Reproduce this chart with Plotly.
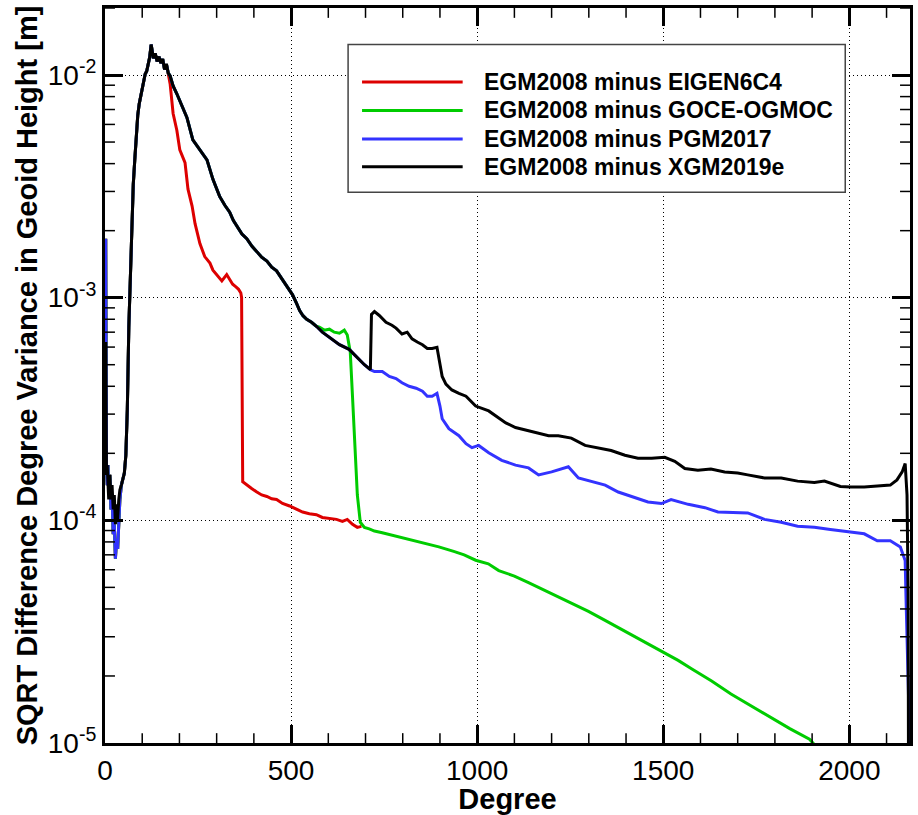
import math
import plotly.graph_objects as go

# ---------------- data ----------------
# shared low-degree part (degrees 2..170) for EIGEN6C4 / GOCE-OGMOC / PGM2017
low_deg = [2, 3, 4, 6, 8, 10, 13, 16, 19, 22, 25, 28, 31, 34, 37, 40, 44, 48, 52, 56,
           60, 64, 68, 72, 76, 80, 84, 88, 92, 96, 100, 104, 108, 112, 116, 120, 124, 127, 130, 135,
           140, 145, 150, 155, 160, 165, 170]
low_val = [1.84e-3, 2.94e-4, 1.77e-4, 1.44e-4, 1.77e-4, 1.30e-4, 1.60e-4, 1.12e-4, 1.30e-4, 8.67e-5,
           9.60e-5, 6.72e-5, 8.24e-5, 7.44e-5, 1.06e-4, 1.24e-4, 1.44e-4, 1.52e-4, 1.63e-4, 1.96e-4,
           3.16e-4, 7.37e-4, 1.23e-3, 1.94e-3, 3.23e-3, 4.16e-3, 5.37e-3, 6.59e-3, 7.44e-3, 8.07e-3,
           8.50e-3, 9.22e-3, 1.01e-2, 1.04e-2, 1.12e-2, 1.20e-2, 1.37e-2, 1.28e-2, 1.19e-2, 1.25e-2,
           1.15e-2, 1.21e-2, 1.13e-2, 1.18e-2, 1.06e-2, 1.12e-2, 1.02e-2]
# XGM2019e differs in the lowest degrees (2..40)
black_low_head = [6.32e-4, 2.40e-4, 1.60e-4, 1.77e-4, 1.37e-4, 1.24e-4, 1.60e-4, 1.24e-4, 1.44e-4, 1.12e-4,
                  1.30e-4, 9.60e-5, 1.18e-4, 1.01e-4, 1.24e-4, 1.37e-4]

# shared part of GOCE-OGMOC / PGM2017 / XGM2019e (degrees 175..568)
mid_deg = [175, 183, 193, 207, 220, 236, 255, 274, 290, 308, 322, 335, 345, 354, 368, 381, 395, 408,
           421, 435, 448, 461, 475, 488, 504, 515, 523, 532, 542, 555, 568]
mid_val = [9.90e-3, 8.94e-3, 8.24e-3, 7.29e-3, 6.45e-3, 5.11e-3, 4.61e-3, 4.16e-3, 3.40e-3, 2.85e-3,
           2.60e-3, 2.42e-3, 2.22e-3, 2.10e-3, 1.93e-3, 1.84e-3, 1.70e-3, 1.61e-3, 1.52e-3, 1.46e-3,
           1.37e-3, 1.32e-3, 1.22e-3, 1.14e-3, 1.03e-3, 9.40e-4, 8.76e-4, 8.30e-4, 8.00e-4, 7.75e-4,
           7.44e-4]

# shared part of PGM2017 / XGM2019e (degrees 584..713)
pb_deg = [584, 608, 630, 656, 675, 697, 713]
pb_val = [7.00e-4, 6.53e-4, 6.15e-4, 5.86e-4, 5.43e-4, 5.00e-4, 4.75e-4]

# EGM2008 minus EIGEN6C4 (after degree 170)
red_deg = [175, 183, 193, 201, 215, 223, 234, 242, 247, 255, 268, 282, 290, 303, 314, 327, 335, 343,
           351, 359, 365, 367, 370, 381, 394, 408, 421, 435, 448, 461, 477, 496, 515, 531, 549, 568,
           584, 603, 622, 638, 651, 665, 678, 689]
red_val = [9.12e-3, 6.72e-3, 5.65e-3, 4.61e-3, 4.04e-3, 3.07e-3, 2.58e-3, 2.15e-3, 1.98e-3, 1.75e-3,
           1.53e-3, 1.43e-3, 1.33e-3, 1.26e-3, 1.19e-3, 1.27e-3, 1.20e-3, 1.15e-3, 1.12e-3, 1.09e-3,
           1.05e-3, 1.00e-3, 1.49e-4, 1.44e-4, 1.39e-4, 1.34e-4, 1.30e-4, 1.28e-4, 1.25e-4, 1.24e-4,
           1.19e-4, 1.16e-4, 1.12e-4, 1.09e-4, 1.07e-4, 1.06e-4, 1.03e-4, 1.02e-4, 1.01e-4, 9.9e-5,
           1.01e-4, 9.6e-5, 9.3e-5, 9.4e-5]

# EGM2008 minus GOCE-OGMOC (after degree 568)
green_deg = [576, 589, 603, 616, 630, 643, 651, 659, 665, 670, 675, 678, 686, 697, 710, 724, 745, 769,
             790, 817, 844, 871, 897, 937, 965, 996, 1030, 1058, 1100, 1138, 1180, 1218, 1260, 1299,
             1340, 1379, 1410, 1441, 1470, 1497, 1540, 1577, 1630, 1682, 1735, 1789, 1840, 1893, 1940]
green_val = [7.37e-4, 7.15e-4, 7.22e-4, 7.00e-4, 6.93e-4, 7.15e-4, 6.80e-4, 5.71e-4, 3.61e-4, 2.53e-4,
             1.83e-4, 1.30e-4, 9.80e-5, 9.30e-5, 9.15e-5, 8.95e-5, 8.80e-5, 8.60e-5, 8.45e-5, 8.20e-5,
             8.05e-5, 7.80e-5, 7.60e-5, 7.25e-5, 7.00e-5, 6.62e-5, 6.38e-5, 5.95e-5, 5.62e-5, 5.25e-5,
             4.85e-5, 4.55e-5, 4.18e-5, 3.90e-5, 3.58e-5, 3.30e-5, 3.08e-5, 2.88e-5, 2.72e-5, 2.58e-5,
             2.35e-5, 2.15e-5, 1.90e-5, 1.66e-5, 1.47e-5, 1.30e-5, 1.16e-5, 1.04e-5, 8.5e-6]

# EGM2008 minus PGM2017 (after degree 713)
blue_deg = [724, 745, 764, 782, 798, 817, 836, 853, 866, 879, 892, 900, 906, 924, 951, 970, 986, 1004,
            1031, 1066, 1103, 1138, 1165, 1200, 1227, 1245, 1272, 1307, 1344, 1379, 1415, 1459, 1495,
            1521, 1567, 1612, 1647, 1700, 1727, 1772, 1817, 1861, 1906, 1949, 1995, 2040, 2075, 2110,
            2137, 2150, 2152, 2157, 2160, 2161]
blue_val = [4.66e-4, 4.66e-4, 4.43e-4, 4.33e-4, 4.15e-4, 4.00e-4, 3.92e-4, 3.80e-4, 3.61e-4, 3.61e-4,
            3.72e-4, 3.26e-4, 2.86e-4, 2.58e-4, 2.40e-4, 2.21e-4, 2.12e-4, 2.17e-4, 2.01e-4, 1.86e-4,
            1.77e-4, 1.72e-4, 1.60e-4, 1.65e-4, 1.70e-4, 1.74e-4, 1.55e-4, 1.49e-4, 1.44e-4, 1.34e-4,
            1.28e-4, 1.21e-4, 1.19e-4, 1.24e-4, 1.18e-4, 1.14e-4, 1.09e-4, 1.08e-4, 1.08e-4, 1.01e-4,
            9.8e-5, 9.4e-5, 9.3e-5, 9.1e-5, 8.9e-5, 8.7e-5, 8.1e-5, 8.1e-5, 7.6e-5, 6.6e-5,
            4.7e-5, 2.4e-5, 1.4e-5, 1e-6]

# EGM2008 minus XGM2019e (after degree 713)
black_deg = [716, 724, 737, 755, 771, 782, 798, 812, 825, 839, 853, 866, 879, 892, 897, 906, 916, 932,
             951, 970, 996, 1031, 1058, 1077, 1103, 1138, 1165, 1192, 1218, 1253, 1290, 1325, 1360,
             1397, 1432, 1469, 1504, 1531, 1558, 1593, 1628, 1665, 1700, 1727, 1772, 1817, 1861, 1906,
             1933, 1976, 2003, 2040, 2075, 2110, 2128, 2142, 2150, 2155, 2158, 2160]
black_val = [8.41e-4, 8.66e-4, 8.32e-4, 7.75e-4, 7.52e-4, 7.30e-4, 6.87e-4, 7.00e-4, 6.53e-4, 6.32e-4,
             6.15e-4, 5.92e-4, 5.92e-4, 5.99e-4, 5.43e-4, 4.43e-4, 4.09e-4, 3.85e-4, 3.72e-4, 3.61e-4,
             3.26e-4, 3.10e-4, 2.88e-4, 2.74e-4, 2.61e-4, 2.53e-4, 2.46e-4, 2.40e-4, 2.40e-4, 2.34e-4,
             2.17e-4, 2.12e-4, 2.06e-4, 1.96e-4, 1.90e-4, 1.90e-4, 1.92e-4, 1.84e-4, 1.71e-4, 1.68e-4,
             1.70e-4, 1.65e-4, 1.63e-4, 1.60e-4, 1.55e-4, 1.55e-4, 1.50e-4, 1.48e-4, 1.50e-4, 1.42e-4,
             1.41e-4, 1.41e-4, 1.42e-4, 1.44e-4, 1.52e-4, 1.65e-4, 1.80e-4, 1.30e-4, 4.71e-5, 1e-6]

series_names = ["EGM2008 minus EIGEN6C4", "EGM2008 minus GOCE-OGMOC",
                "EGM2008 minus PGM2017", "EGM2008 minus XGM2019e"]
series_colors = ["#dd0000", "#00cc00", "#3333ff", "#000000"]

x_tick_vals = [0, 500, 1000, 1500, 2000]
x_tick_text = ["0", "500", "1000", "1500", "2000"]
x_minor_vals = [d for d in range(100, 2200, 100) if d % 500 != 0]
y_tick_vals = [1e-5, 1e-4, 1e-3, 1e-2]
y_tick_text = ["10<sup>-5</sup>", "10<sup>-4</sup>", "10<sup>-3</sup>", "10<sup>-2</sup>"]
y_minor_vals = [k * 10.0 ** e for e in range(-5, -1) for k in range(2, 10)]

# ---------------- assemble series ----------------
x_red = low_deg + red_deg
y_red = low_val + red_val
x_green = low_deg + mid_deg + green_deg
y_green = low_val + mid_val + green_val
x_blue = low_deg + mid_deg + pb_deg + blue_deg
y_blue = low_val + mid_val + pb_val + blue_val
x_black = low_deg + mid_deg + pb_deg + black_deg
y_black = black_low_head + low_val[len(black_low_head):] + mid_val + pb_val + black_val

xs = [x_red, x_green, x_blue, x_black]
ys = [y_red, y_green, y_blue, y_black]

# ---------------- figure ----------------
W, H = 918, 815
ML, MR, MT, MB = 105, 5, 6, 63
PW, PH = W - ML - MR, H - MT - MB
FONT = "Liberation Sans, Arial, Helvetica, sans-serif"

fig = go.Figure()
for xv, yv, name, col in zip(xs, ys, series_names, series_colors):
    fig.add_trace(go.Scatter(x=xv, y=yv, mode="lines", name=name,
                             line=dict(color=col, width=3), showlegend=False))


def to_paper(px, py):
    return (px - ML) / PW, 1 - (py - MT) / PH


shapes = []


def xtick(d, length, width):
    f = length / PH
    shapes.append(dict(type="line", xref="x", yref="paper", x0=d, x1=d, y0=0, y1=f,
                       line=dict(color="black", width=width), layer="above"))
    shapes.append(dict(type="line", xref="x", yref="paper", x0=d, x1=d, y0=1, y1=1 - f,
                       line=dict(color="black", width=width), layer="above"))


def ytick(v, length, width):
    f = length / PW
    shapes.append(dict(type="line", xref="paper", yref="y", x0=0, x1=f, y0=v, y1=v,
                       line=dict(color="black", width=width), layer="above"))
    shapes.append(dict(type="line", xref="paper", yref="y", x0=1, x1=1 - f, y0=v, y1=v,
                       line=dict(color="black", width=width), layer="above"))


# minor ticks on all four sides (major ticks come from the axes themselves)
for d in x_minor_vals:
    xtick(d, 10, 1.5)
for v in y_minor_vals:
    ytick(v, 10, 1.5)

# manual legend (long line samples like the original)
bx0, by0 = to_paper(349, 43)
bx1, by1 = to_paper(848, 193)
shapes.append(dict(type="rect", xref="paper", yref="paper", x0=bx0, x1=bx1, y0=by1, y1=by0,
                   line=dict(color="#444444", width=1.5), fillcolor="white", layer="above"))
annotations = []
row_y = [81, 110, 139, 167]
for ry, name, col in zip(row_y, series_names, series_colors):
    lx0, ly = to_paper(363, ry)
    lx1, _ = to_paper(464, ry)
    shapes.append(dict(type="line", xref="paper", yref="paper", x0=lx0, x1=lx1, y0=ly, y1=ly,
                       line=dict(color=col, width=3), layer="above"))
    tx, _ = to_paper(483, ry)
    annotations.append(dict(xref="paper", yref="paper", x=tx, y=ly, xanchor="left", yanchor="middle",
                            text="<b>" + name + "</b>", showarrow=False,
                            font=dict(family=FONT, size=23, color="black")))

axis_common = dict(showline=True, linewidth=3, linecolor="black", mirror="ticks",
                   ticks="inside", ticklen=18, tickwidth=3, tickcolor="black",
                   tickfont=dict(family=FONT, size=28, color="black"),
                   showgrid=True, gridcolor="black", gridwidth=1, griddash="1px,3px",
                   zeroline=False)

fig.update_layout(
    width=W, height=H,
    margin=dict(l=ML, r=MR, t=MT, b=MB, pad=0),
    paper_bgcolor="white", plot_bgcolor="white",
    font=dict(family=FONT, color="black"),
    shapes=shapes, annotations=annotations,
    showlegend=False,
    xaxis=dict(axis_common, range=[0, 2163], tickmode="array", tickvals=x_tick_vals, ticktext=x_tick_text,
               title=dict(text="<b>Degree</b>", font=dict(family=FONT, size=29, color="black"), standoff=4)),
    yaxis=dict(axis_common, type="log", range=[-5, math.log10(0.02)], tickmode="array",
               tickvals=y_tick_vals, ticktext=y_tick_text,
               title=dict(text="<b>SQRT Difference Degree Variance in Geoid Height [m]</b>",
                          font=dict(family=FONT, size=29, color="black"), standoff=2)),
)

fig.write_html("out.html")
